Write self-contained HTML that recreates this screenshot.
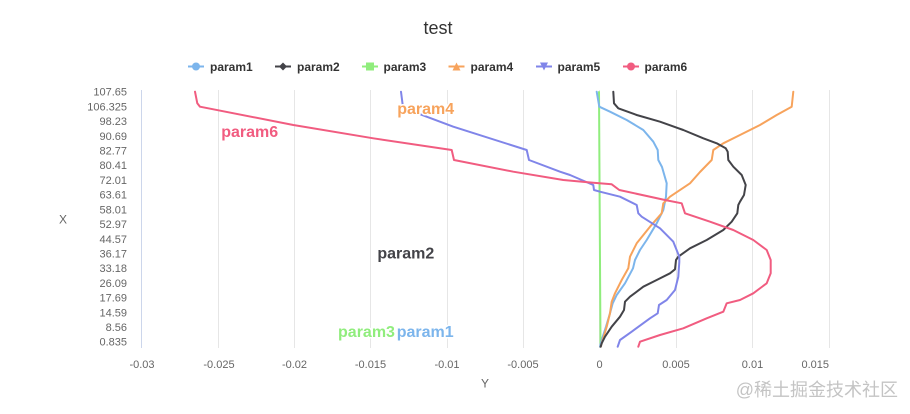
<!DOCTYPE html>
<html><head><meta charset="utf-8"><style>
html,body{margin:0;padding:0;background:#fff;}
svg{display:block;}
text{font-family:"Liberation Sans","Noto Sans CJK SC",sans-serif;}
</style></head><body>
<svg width="910" height="414" viewBox="0 0 910 414" xmlns="http://www.w3.org/2000/svg">
<rect width="910" height="414" fill="#fff"/>
<!-- title -->
<text x="438" y="34" font-size="18" fill="#333" text-anchor="middle">test</text>
<!-- legend -->
<g font-size="12" font-weight="bold" fill="#333">
  <line x1="188" y1="66.5" x2="204" y2="66.5" stroke="#7cb5ec" stroke-width="2"/><circle cx="196" cy="66.5" r="4" fill="#7cb5ec"/>
  <text x="210" y="71">param1</text>
  <line x1="275" y1="66.5" x2="291" y2="66.5" stroke="#434348" stroke-width="2"/><path d="M283 62.5 L287 66.5 L283 70.5 L279 66.5 Z" fill="#434348"/>
  <text x="297" y="71">param2</text>
  <line x1="362" y1="66.5" x2="378" y2="66.5" stroke="#90ed7d" stroke-width="2"/><rect x="366" y="62.5" width="8" height="8" fill="#90ed7d"/>
  <text x="383.5" y="71">param3</text>
  <line x1="448.5" y1="66.5" x2="464.5" y2="66.5" stroke="#f7a35c" stroke-width="2"/><path d="M456.5 62.5 L460.5 70.5 L452.5 70.5 Z" fill="#f7a35c"/>
  <text x="470.5" y="71">param4</text>
  <line x1="536" y1="66.5" x2="552" y2="66.5" stroke="#8085e9" stroke-width="2"/><path d="M540 62.5 L548 62.5 L544 70.5 Z" fill="#8085e9"/>
  <text x="557.5" y="71">param5</text>
  <line x1="623" y1="66.5" x2="639" y2="66.5" stroke="#f15c80" stroke-width="2"/><circle cx="631" cy="66.5" r="4" fill="#f15c80"/>
  <text x="644.5" y="71">param6</text>
</g>
<!-- grid -->
<g stroke="#e6e6e6" stroke-width="1">
  <line x1="218.5" y1="90" x2="218.5" y2="348"/>
  <line x1="294.5" y1="90" x2="294.5" y2="348"/>
  <line x1="370.5" y1="90" x2="370.5" y2="348"/>
  <line x1="447.5" y1="90" x2="447.5" y2="348"/>
  <line x1="523.5" y1="90" x2="523.5" y2="348"/>
  <line x1="599.5" y1="90" x2="599.5" y2="348"/>
  <line x1="676.5" y1="90" x2="676.5" y2="348"/>
  <line x1="752.5" y1="90" x2="752.5" y2="348"/>
  <line x1="829.5" y1="90" x2="829.5" y2="348"/>
</g>
<line x1="141.5" y1="90" x2="141.5" y2="348" stroke="#ccd6eb" stroke-width="1"/>
<!-- y labels -->
<g font-size="11" fill="#666" text-anchor="end">
  <text x="127" y="95.7">107.65</text>
  <text x="127" y="110.4">106.325</text>
  <text x="127" y="125.1">98.23</text>
  <text x="127" y="139.8">90.69</text>
  <text x="127" y="154.5">82.77</text>
  <text x="127" y="169.2">80.41</text>
  <text x="127" y="183.9">72.01</text>
  <text x="127" y="198.6">63.61</text>
  <text x="127" y="213.3">58.01</text>
  <text x="127" y="228.1">52.97</text>
  <text x="127" y="242.8">44.57</text>
  <text x="127" y="257.5">36.17</text>
  <text x="127" y="272.2">33.18</text>
  <text x="127" y="286.9">26.09</text>
  <text x="127" y="301.6">17.69</text>
  <text x="127" y="316.3">14.59</text>
  <text x="127" y="331.0">8.56</text>
  <text x="127" y="345.7">0.835</text>
</g>
<!-- x labels -->
<g font-size="11" fill="#666" text-anchor="middle">
  <text x="142" y="368">-0.03</text>
  <text x="219" y="368">-0.025</text>
  <text x="294.5" y="368">-0.02</text>
  <text x="370.5" y="368">-0.015</text>
  <text x="447" y="368">-0.01</text>
  <text x="523" y="368">-0.005</text>
  <text x="599.5" y="368">0</text>
  <text x="676" y="368">0.005</text>
  <text x="752.5" y="368">0.01</text>
  <text x="829" y="368" text-anchor="end">0.015</text>
</g>
<!-- axis titles -->
<text x="63" y="223.5" font-size="12" fill="#666" text-anchor="middle">X</text>
<text x="485" y="387.5" font-size="12" fill="#666" text-anchor="middle">Y</text>
<!-- series -->
<g fill="none" stroke-width="2" stroke-linejoin="round" stroke-linecap="round">
  <!-- param3 -->
  <polyline stroke="#90ed7d" points="599,92 600.5,346.5"/>
  <!-- param1 -->
  <polyline stroke="#7cb5ec" points="596.7,91.7 599.3,106.7 610,111.7 626.7,120 643.3,130 653.3,141.7 657.7,150 658.3,160 662,167 666.7,183.3 666,196.7 663.3,210 656.7,223.3 646.7,240 640,250 635,260 633,268.3 625,283.3 616.7,295 612.7,303.3 610,313.3 606,326.7 601.7,340 600,346.7"/>
  <!-- param4 -->
  <polyline stroke="#f7a35c" points="793.3,91.7 791.7,106.7 776.7,115 760,125 740,135 723.3,143.3 713.3,150 711.7,160 700,172 690,183.3 670,196.7 663.3,203.3 661.7,213.3 650,226.7 636.7,243.3 630,256.7 628.3,268.3 621.7,280 615,293.3 611.7,301.7 610,313.3 606.7,326.7 602.7,340 600.7,346.7"/>
  <!-- param2 -->
  <polyline stroke="#434348" points="613.3,91.7 614,103.3 618.3,108.3 636.7,115 660,121.7 683.3,130 703.3,138.3 716.7,143.3 725.7,148.3 727.7,151.7 728.3,160 733.3,166.7 741.7,175 745.7,185 744,195 740,201.7 738.3,205 737.3,213.3 731.7,221.7 723.3,230 706.7,240 690,248.3 678.3,256.7 676,260 675,269.3 670,273.3 656.7,280 643.3,286.7 630,296.7 625,301.7 624,310 620,316.7 611.7,326.7 605,336.7 601.7,343.3 600.7,346.7"/>
  <!-- param5 -->
  <polyline stroke="#8085e9" points="401,91.7 402.7,105 413.3,111.7 453.3,126.7 526.7,150 529,160 560,171.7 570,175 593.3,185 594,190 600,191.7 620,196.7 636.7,205 638.3,213.3 641.7,216.7 660,228.3 673.3,241.7 679.3,256.7 679.3,262 678.3,276.7 675,290 666.7,300 659,305 657.7,313.3 650,318.3 631.7,331.7 620,340 617.7,346.7"/>
  <!-- param6 -->
  <polyline stroke="#f15c80" points="195,91.7 197.3,103.3 200,106.7 293.3,125 373.3,138.3 451.7,150 454,160 513.3,171.7 563.3,180 593.3,182.8 611.7,184.3 619.3,190 665,200 681.7,203.3 685,213.3 710,221.7 733.3,230 753.3,240 766.7,250 770.7,260 770.7,273.3 766.7,283.3 753.3,293.3 740,300 726.7,303.3 723.3,311.7 706.7,318.3 683.3,328.3 660,335 640,341.7 638.3,346.7"/>
</g>
<!-- series labels -->
<g font-size="16" font-weight="bold" text-anchor="middle" stroke="#fff" stroke-width="3" stroke-linejoin="round" paint-order="stroke">
  <text x="249.7" y="137" fill="#f15c80">param6</text>
  <text x="425.7" y="114" fill="#f7a35c">param4</text>
  <text x="405.8" y="258.5" fill="#434348">param2</text>
  <text x="366.5" y="337" fill="#90ed7d">param3</text>
  <text x="425.2" y="337" fill="#7cb5ec">param1</text>
</g>
<!-- watermark -->
<text x="898" y="396" font-size="18" fill="#c4c4c4" text-anchor="end" font-family="'Liberation Sans','Noto Sans CJK SC',sans-serif">@稀土掘金技术社区</text>
</svg>
</body></html>
